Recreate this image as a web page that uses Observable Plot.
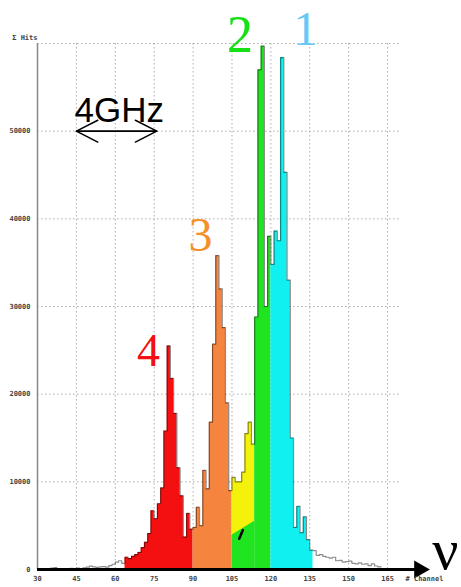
<!DOCTYPE html>
<html>
<head>
<meta charset="utf-8">
<script src="https://cdn.jsdelivr.net/npm/d3@7"></script>
<script src="https://cdn.jsdelivr.net/npm/@observablehq/plot@0.6"></script>
<style>
  body { margin: 0; background: #fff; }
  #chart svg { display: block; }
</style>
</head>
<body>
<div id="chart"></div>
<script>
// Hit counts per bin along the channel axis (bins are 1.25 channels wide).
const binWidth = 1.25;

const lowTailStart = 30;
const lowTail = [0, 50, 0, 80, 150, 220, 100, 60, 40, 60, 120, 80, 150, 100, 200, 260, 380, 300, 250, 300, 330, 260, 450, 600, 830, 1000, 700];

const peak4Start = 63.75;
const peak4 = [1400, 1250, 1500, 1700, 1950, 2500, 3100, 4100, 6700, 5800, 7500, 9300, 15800, 25500, 21800, 17800, 11600, 8400, 3700, 6400, 4600];

const peak3Start = 90;
const peak3 = [4800, 7100, 5000, 11300, 9200, 16800, 25700, 35800, 32000, 27600, 19000, 9000];

const peak2YellowStart = 105;
const peak2Yellow = [10500, 10000, 10000, 11100, 15500, 16800, 14300];

const peak2GreenStart = 113.75;
const peak2Green = [28800, 57000, 59700, 30000, 38000];

const peak1Start = 120;
const peak1 = [34800, 38600, 37500, 58400, 45300, 33000, 15000, 4800, 7200, 4200, 6000, 3400, 2200];

const highTailStart = 136.25;
const highTail = [2150, 1600, 1700, 1500, 1400, 1300, 1400, 1000, 1050, 850, 900, 950, 700, 650, 750, 600, 650, 450, 650, 400, 300];

// Lower edge of the yellow overlay inside peak 2 (channel, hits).
const yellowFloorChannels = [105, 113.75];
const yellowFloorHits = [3900, 5500];

// Axis ticks
const xTicks = [30, 45, 60, 75, 90, 105, 120, 135, 150, 165];
const yTicks = [0, 10000, 20000, 30000, 40000, 50000];
const gridYTicks = [10000, 20000, 30000, 40000, 50000, 60000];
const gridXTicks = [45, 60, 75, 90, 105, 120, 135, 150, 165];

// Peak labels
const peakLabels = ["4", "3", "2", "1"];

// Turn a run of bin counts into step points (one extra point closes the last bin).
function steps(start, counts) {
  const pts = counts.map((v, i) => ({x: start + i * binWidth, y: v}));
  pts.push({x: start + counts.length * binWidth, y: counts[counts.length - 1]});
  return pts;
}

const allBins = [
  [lowTailStart, lowTail], [peak4Start, peak4], [peak3Start, peak3],
  [peak2YellowStart, peak2Yellow], [peak2GreenStart, peak2Green],
  [peak1Start, peak1], [highTailStart, highTail]
];
const outline = [];
for (const [s, c] of allBins) c.forEach((v, i) => outline.push({x: s + i * binWidth, y: v}));
outline.push({x: highTailStart + highTail.length * binWidth, y: highTail[highTail.length - 1]});

const yellowFloor = yellowFloorChannels.map((x, i) => ({x, y: yellowFloorHits[i]}));

const mono = "DejaVu Sans Mono";
const serif = "Liberation Serif, Times New Roman, serif";

const chart = Plot.plot({
  width: 461,
  height: 587,
  marginLeft: 37,
  marginRight: 61,
  marginTop: 43,
  marginBottom: 18,
  x: {domain: [30, 170]},
  y: {domain: [0, 60000]},
  style: {background: "#fff", overflow: "visible"},
  marks: [
    // dotted grid
    Plot.gridY(gridYTicks, {stroke: "#777", strokeOpacity: 0.6, strokeDasharray: "1.5,2.5"}),
    Plot.gridX(gridXTicks, {stroke: "#777", strokeOpacity: 0.6, strokeDasharray: "1.5,2.5"}),

    // coloured peaks
    Plot.areaY(steps(peak4Start, peak4), {x: "x", y: "y", curve: "step-after", fill: "#f41010"}),
    Plot.areaY(steps(peak3Start, peak3), {x: "x", y: "y", curve: "step-after", fill: "#f5843f"}),
    Plot.areaY(steps(peak2YellowStart, peak2Yellow), {x: "x", y: "y", curve: "step-after", fill: "#f4f20a"}),
    Plot.areaY(yellowFloor, {x: "x", y: "y", fill: "#20e420"}),
    Plot.areaY(steps(peak2GreenStart, peak2Green), {x: "x", y: "y", curve: "step-after", fill: "#20e420"}),
    Plot.areaY(steps(peak1Start, peak1), {x: "x", y: "y", curve: "step-after", fill: "#10f0f0"}),

    // small ink mark at the foot of the yellow region
    Plot.line([{x: 107.8, y: 3500}, {x: 109.2, y: 4500}], {x: "x", y: "y", stroke: "#000", strokeWidth: 2.5}),

    // histogram outline
    Plot.line(outline, {x: "x", y: "y", curve: "step-after", stroke: "#000", strokeOpacity: 0.45, strokeWidth: 1.2}),

    // y axis line
    Plot.ruleX([30], {y1: 0, y2: 60000, stroke: "#888", strokeWidth: 1.5}),

    // channel axis with arrow head
    Plot.ruleY([0], {x1: 30, x2: 176, stroke: "#000", strokeWidth: 3}),
    Plot.dot([177.3], {x: d => d, y: 0, symbol: "triangle", r: 6.7, rotate: 90, fill: "#000", stroke: null}),
    Plot.text(["ν"], {x: 187.3, y: 0, text: d => d, fontFamily: serif, fontSize: 58, lineAnchor: "bottom", dy: -1, fill: "#000"}),

    // tick labels
    Plot.axisY(yTicks, {tickSize: 0, tickPadding: 7, fontFamily: mono, fontSize: 7, fontWeight: "bold", fill: "#444", label: null, tickFormat: d => String(d)}),
    Plot.axisX(xTicks, {tickSize: 0, tickPadding: 7, fontFamily: mono, fontSize: 7, fontWeight: "bold", fill: "#444", label: null, tickFormat: d => String(d)}),
    Plot.text(["# Channel"], {x: 170, y: 0, text: d => d, textAnchor: "start", dx: 5, dy: 9.5, fontFamily: mono, fontSize: 7, fontWeight: "bold", fill: "#444"}),
    Plot.text(["Σ Hits"], {x: 30, y: 60000, text: d => d, textAnchor: "end", dx: 0, dy: -6, fontFamily: mono, fontSize: 7, fontWeight: "bold", fill: "#444"}),

    // 4 GHz span
    Plot.arrow([{x1: 45, x2: 76}], {x1: "x1", x2: "x2", y1: 50000, y2: 50000, stroke: "#000", strokeWidth: 1.5, headLength: 24, headAngle: 54}),
    Plot.arrow([{x1: 76, x2: 45}], {x1: "x1", x2: "x2", y1: 50000, y2: 50000, stroke: "#000", strokeWidth: 1.5, headLength: 24, headAngle: 54}),
    Plot.text(["4GHz"], {x: 61.5, y: 51000, text: d => d, fontFamily: "Liberation Sans, Arial, sans-serif", fontSize: 35, lineAnchor: "bottom", fill: "#000"}),

    // peak numbers
    Plot.text([peakLabels[0]], {x: 72.8, y: 23200, text: d => d, fontFamily: serif, fontSize: 46, lineAnchor: "bottom", fill: "#f41010"}),
    Plot.text([peakLabels[1]], {x: 92.9, y: 36300, text: d => d, fontFamily: serif, fontSize: 48, lineAnchor: "bottom", fill: "#f5912a"}),
    Plot.text([peakLabels[2]], {x: 108.1, y: 59000, text: d => d, fontFamily: serif, fontSize: 52, lineAnchor: "bottom", fill: "#14e014"}),
    Plot.text([peakLabels[3]], {x: 133.4, y: 59800, text: d => d, fontFamily: serif, fontSize: 48, lineAnchor: "bottom", fill: "#66c8f4"})
  ]
});

document.getElementById("chart").appendChild(chart);
</script>
</body>
</html>
